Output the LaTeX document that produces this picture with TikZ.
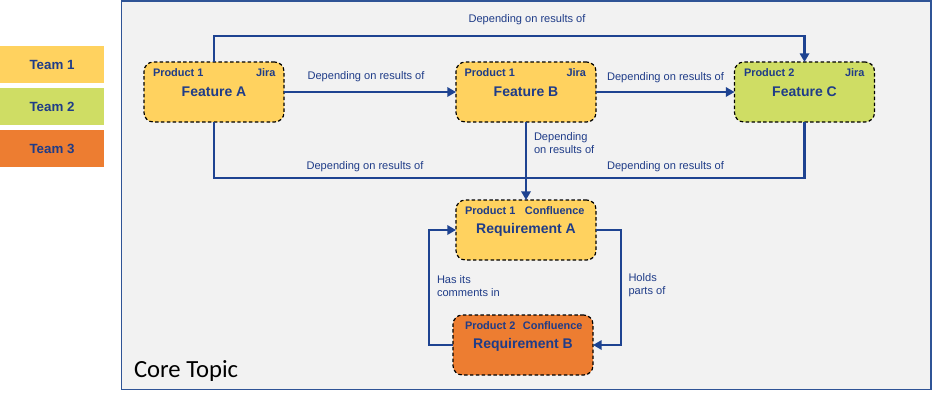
\documentclass[tikz,border=0pt]{standalone}
\usepackage{fontspec}
\setmainfont{Liberation Sans}
\newfontfamily\corefont{Carlito}
\usetikzlibrary{arrows.meta}
\definecolor{tblue}{HTML}{1F3C88}
\definecolor{lblue}{HTML}{1E4391}
\definecolor{fblue}{HTML}{2F5496}
\definecolor{fgray}{HTML}{F2F2F2}
\definecolor{cyellow}{HTML}{FFD25F}
\definecolor{cgreen}{HTML}{CFDD64}
\definecolor{corange}{HTML}{ED7D31}
\begin{document}
\begin{tikzpicture}[x=0.75pt,y=-0.75pt,
  every node/.style={inner sep=0pt, outer sep=0pt},
  teambox/.style={minimum width=78pt, minimum height=27.75pt, anchor=north west,
    font=\fontsize{10}{12}\selectfont\bfseries, text=tblue},
  cardbox/.style={draw=black, line width=0.9pt, dash pattern=on 2.6pt off 1.8pt,
    rounded corners=7pt, minimum width=105pt, minimum height=45pt,
    font=\fontsize{10.5}{12}\selectfont\bfseries, text=tblue},
  tagl/.style={anchor=west, font=\fontsize{8.2}{10}\selectfont\bfseries, text=tblue},
  tagr/.style={anchor=east, font=\fontsize{8.2}{10}\selectfont\bfseries, text=tblue},
  rel/.style={font=\fontsize{8.3}{9.75}\selectfont, text=tblue, align=left},
  wire/.style={draw=lblue, line width=2.1pt},
  link/.style={wire, -{Triangle[length=6.5pt,width=7pt]}}
]
\useasboundingbox (0,0) rectangle (935,400);
% legend
\node[teambox, fill=cyellow] (t1) at (0,46) {Team 1};
\node[teambox, fill=cgreen] (t2) at (0,88) {Team 2};
\node[teambox, fill=corange] (t3) at (0,130) {Team 3};
% frame
\draw[draw=fblue, fill=fgray, line width=0.8pt] (121.5,1) rectangle (931,389.5);
\node[font=\corefont\fontsize{18.5}{22}\selectfont, anchor=base west] (core) at (134,377) {Core Topic};
% cards
\node[cardbox, fill=cyellow] (fa) at (214,92) {Feature A};
\node[tagl] (fap) at (153,73) {Product 1};
\node[tagr] (faj) at (275.5,73) {Jira};
\node[cardbox, fill=cyellow] (fb) at (526,92) {Feature B};
\node[tagl] (fbp) at (464.5,73) {Product 1};
\node[tagr] (fbj) at (586,73) {Jira};
\node[cardbox, fill=cgreen] (fc) at (804.5,92) {Feature C};
\node[tagl] (fcp) at (744,73) {Product 2};
\node[tagr] (fcj) at (864.5,73) {Jira};
\node[cardbox, fill=cyellow] (ra) at (526,230) {Requirement A};
\node[tagl] (rap) at (465,211) {Product 1};
\node[tagr] (rac) at (584.5,211) {Confluence};
\node[cardbox, fill=corange] (rb) at (523,345) {Requirement B};
\node[tagl] (rbp) at (465,326) {Product 2};
\node[tagr] (rbc) at (582.5,326) {Confluence};
% connectors
\coordinate (ta) at (214,36);
\draw[link] (fa.north) -- (ta) -| (fc.north);
\draw[link] (fa.east) -- (fb.west);
\draw[link] (fb.east) -- (fc.west);
\coordinate (j) at (526,178);
\draw[wire] (fa.south) |- (j);
\draw[wire] (fc.south) |- (j);
\draw[link] (fb.south) -- (ra.north);
\coordinate (rr) at (621,300);
\draw[link] (ra.east) -- (ra.east -| rr) |- (rb.east);
\coordinate (ll) at (429,300);
\draw[link] (rb.west) -- (rb.west -| ll) |- (ra.west);
% labels
\node[rel] (l1) at (527,20) {Depending on results of};
\node[rel] (l2) at (366,77) {Depending on results of};
\node[rel] (l3) at (665.5,78) {Depending on results of};
\node[rel] (l4) at (365,167) {Depending on results of};
\node[rel] (l5) at (665.5,167) {Depending on results of};
\node[rel, anchor=west] (l6) at (534,143.5) {Depending\\on results of};
\node[rel, anchor=west] (l7) at (437,286.5) {Has its\\comments in};
\node[rel, anchor=west] (l8) at (628.5,285) {Holds\\parts of};
\end{tikzpicture}
\end{document}
